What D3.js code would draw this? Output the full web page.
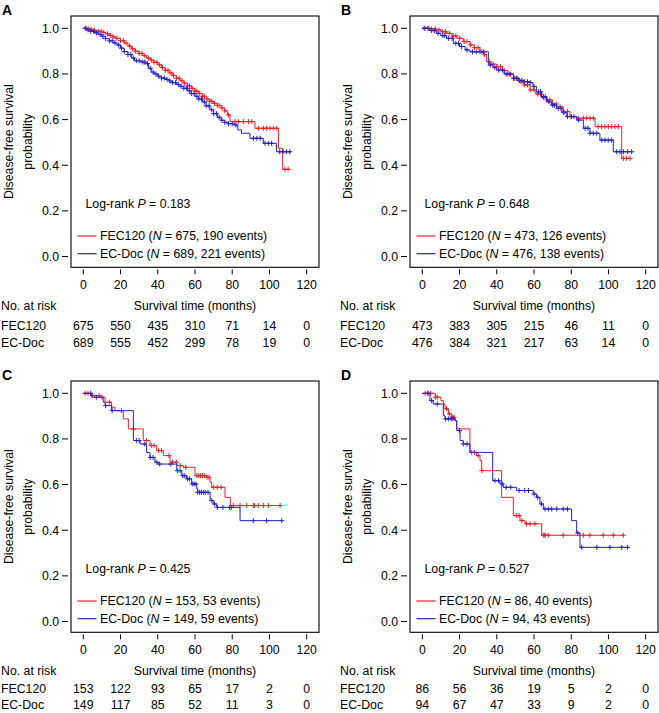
<!DOCTYPE html>
<html>
<head>
<meta charset="utf-8">
<script src="https://cdn.jsdelivr.net/npm/d3@7"></script>
<style>
  body { margin: 0; background: #fff; }
  text { font-family: "Liberation Sans", Arial, Helvetica, sans-serif; font-size: 12.3px; fill: #000; }
</style>
</head>
<body>
<script>
// panel letters and p-values
var panelIds = ["A", "B", "C", "D"];
var pValues = ["0.183", "0.648", "0.425", "0.527"];

// x axis ticks (months)
var xTicks = [0, 20, 40, 60, 80, 100, 120];
var yTicks = [0, 0.2, 0.4, 0.6, 0.8, 1.0];

// legend numbers: N and events
var fecN = [675, 473, 153, 86];
var fecEvents = [190, 126, 53, 40];
var docN = [689, 476, 149, 94];
var docEvents = [221, 138, 59, 43];

// numbers at risk at each x tick
var riskFec = [
  [675, 550, 435, 310, 71, 14, 0],
  [473, 383, 305, 215, 46, 11, 0],
  [153, 122, 93, 65, 17, 2, 0],
  [86, 56, 36, 19, 5, 2, 0]
];
var riskDoc = [
  [689, 555, 452, 299, 78, 19, 0],
  [476, 384, 321, 217, 63, 14, 0],
  [149, 117, 85, 52, 11, 3, 0],
  [94, 67, 47, 33, 9, 2, 0]
];

// Kaplan-Meier steps [time, survival]
var kmA_fec = [[0,1],[2,0.998],[4,0.995],[6,0.99],[8,0.987],[10,0.982],[12,0.976],[14,0.969],[16,0.962],[18,0.956],[20,0.946],[22,0.935],[24,0.922],[26,0.91],[28,0.9],[30,0.89],[32,0.88],[34,0.87],[36,0.861],[38,0.851],[40,0.84],[42,0.828],[44,0.816],[46,0.805],[48,0.793],[50,0.781],[52,0.77],[54,0.759],[56,0.748],[58,0.737],[60,0.725],[62,0.714],[64,0.702],[66,0.69],[68,0.68],[70,0.671],[72,0.662],[74,0.651],[76,0.638],[77.5,0.62],[78.8,0.591],[92.2,0.562],[104.8,0.474],[107.1,0.382],[111,0.382]];
var kmA_doc = [[0,1],[2,0.993],[4,0.987],[6,0.98],[8,0.973],[10,0.965],[12,0.955],[14,0.945],[16,0.936],[18,0.927],[20,0.913],[22,0.898],[24,0.885],[26,0.87],[27.5,0.858],[31,0.852],[33.5,0.845],[35,0.825],[36.5,0.808],[38,0.8],[40,0.79],[42,0.782],[44,0.776],[46,0.769],[48,0.762],[50,0.754],[52,0.746],[54,0.737],[56,0.726],[58,0.714],[60,0.702],[62,0.69],[64,0.677],[66,0.66],[68,0.643],[70,0.626],[72,0.61],[74,0.597],[76,0.588],[78,0.582],[81,0.576],[83,0.555],[85,0.54],[89.5,0.518],[96.7,0.496],[103.8,0.459],[112,0.459]];
var kmB_fec = [[0,1],[4,0.997],[7.7,0.993],[10,0.985],[13,0.978],[16,0.967],[18.5,0.956],[22,0.942],[25.6,0.927],[28,0.915],[31,0.897],[33,0.885],[34.6,0.854],[37,0.843],[40,0.832],[43,0.815],[46,0.798],[49,0.781],[52,0.765],[54.3,0.752],[57.9,0.73],[61,0.712],[64,0.698],[66.8,0.686],[70,0.668],[72.2,0.656],[75.7,0.635],[79.3,0.613],[82.9,0.606],[92.8,0.569],[107.1,0.43],[111.6,0.43]];
var kmB_doc = [[0,1],[4,0.99],[7.7,0.978],[10,0.968],[13,0.956],[16.7,0.934],[20,0.92],[23,0.905],[25.6,0.897],[35.5,0.839],[38,0.828],[40,0.817],[44,0.8],[48.9,0.781],[52,0.772],[54.3,0.766],[57.9,0.762],[59.5,0.745],[61.4,0.722],[64,0.7],[66.8,0.678],[69.5,0.663],[72.2,0.649],[75,0.63],[77.6,0.613],[82.9,0.598],[86.5,0.562],[90.1,0.54],[95.4,0.51],[102.6,0.459],[112.5,0.459]];
var kmC_fec = [[0,1],[4,0.99],[9,0.983],[11.7,0.961],[15.2,0.939],[17,0.924],[21.5,0.888],[24.2,0.844],[32.2,0.793],[35.8,0.771],[39.4,0.749],[43,0.727],[46.6,0.698],[50.2,0.683],[53.7,0.676],[60,0.639],[66.3,0.632],[68.1,0.61],[69,0.588],[76.1,0.544],[79,0.508],[105.7,0.508]];
var kmC_doc = [[0,1],[4.5,0.983],[10.7,0.961],[11.7,0.946],[15.2,0.924],[26.9,0.793],[30.5,0.778],[34,0.741],[35.8,0.719],[38.5,0.698],[40,0.69],[50.2,0.661],[52.9,0.639],[55.5,0.625],[58.2,0.603],[60.9,0.581],[61.5,0.566],[68.1,0.53],[69.8,0.515],[71.7,0.5],[84.2,0.442],[106.6,0.442]];
var kmD_fec = [[0,1],[7,0.983],[10,0.968],[11.3,0.953],[12.2,0.932],[14,0.91],[15.8,0.895],[17.6,0.88],[18.5,0.844],[25.6,0.741],[29.2,0.727],[31,0.705],[31.9,0.661],[42.6,0.544],[48.9,0.464],[52.5,0.442],[55.2,0.428],[64.1,0.378],[108,0.378]];
var kmD_doc = [[0,1],[4.1,0.968],[5.9,0.953],[11.3,0.902],[12.2,0.888],[17.6,0.88],[18.5,0.837],[20.3,0.793],[22,0.778],[25.6,0.741],[37.8,0.617],[41.7,0.603],[43.5,0.588],[50.7,0.574],[59.6,0.559],[61.4,0.544],[63.2,0.515],[65,0.493],[80.2,0.442],[82.9,0.388],[84.7,0.325],[110.7,0.325]];

// censoring times
var censA_fec = [1.5,3,4.5,6,8,9.5,11,13,14.5,16,18,20,21.5,23,25,26.5,28,30,31.5,33,35,36.5,38,39.5,41,42.5,44,45.5,47,48.5,50,51.5,53,54.5,56,57,58.5,60,61,62.5,64,65,66.5,68,69,70.5,72,73,74.5,76,78,81.5,83.3,86,88.7,90.5,94,96.7,98.5,100.3,102.1,103.9,108.3,110];
var censA_doc = [1,2.5,4,5.5,7,9,10.5,12,14,15.5,17,19,20.5,22,24,25.5,27,28.5,30,32,33,34.5,36,37.5,39,40.5,42,43.5,45,46.5,48,49.5,51,52.5,54,55.5,57,58,59.5,61,62,63.5,65,66,67.5,69,70,71.5,73,74.5,76,78,80,82,91.4,93.2,95,97.6,99.4,101.2,105.5,107.3,109.1,110.9];
var censB_fec = [1.5,3.5,5,7,9,11,12.5,14.5,16.5,18,20,22.5,24,26,28,30,32,33.5,36,38,40,42,44,46,47.5,49.5,51,53,55,56.5,58,60,62,63.5,65,67,68.5,70,72,74,76,78,80,83.8,86.5,88.3,90.1,91.9,94.5,96.3,98.1,99.9,101.7,103.5,105.3,108,109.8,111.6];
var censB_doc = [1,3,5,6.5,8.5,11,12,14,16,18,19.5,21,24,27,29,31,33,36.5,39,41,43,45,47,49,50.5,52,53.5,55,56.5,58,60,62.5,63.5,65,66,68,70,71,73,74.5,76,78,80,81.5,84,87.5,89,90.1,91.9,93.7,96.4,98.1,99.9,101.7,104.4,106.2,108,110.3,112.5];
var censC_fec = [1,2.5,5,8.5,10,14,20.5,27,34,36.5,38,40.5,42,46,48,50,52,55,61,62,63,64,65,66.5,67.5,70,72,74,80.6,84.2,87.8,91.3,92,94,96.7,99.4,105.7];
var censC_doc = [4,7,12,15.5,28.5,30,33,36,37.5,39.5,41,47,50.5,52,53.5,54.5,56,57,58.5,59.5,60.5,61.5,62.5,63.5,64.5,65.5,67,69,70.5,72,75,78.6,79.5,91.3,98.5,106.6];
var censD_fec = [1.5,3,4.5,7,8,13,14.5,16,17,26.5,28,30,32,50.5,52,53.5,56,57.9,60.5,65,65.5,66,67.7,75.7,86.5,90,97.2,102.6,108];
var censD_doc = [3,5,8,12.5,14,15.5,16.5,20,22,24,39,41,43,45,47.5,52,55,57,60,62,64,65.9,67.7,69.5,72.2,75.7,78,83.5,85.6,93.7,100.8,107.1,110.3];

var kmFec = [kmA_fec, kmB_fec, kmC_fec, kmD_fec];
var kmDoc = [kmA_doc, kmB_doc, kmC_doc, kmD_doc];
var censFec = [censA_fec, censB_fec, censC_fec, censD_fec];
var censDoc = [censA_doc, censB_doc, censC_doc, censD_doc];

var RED = "#ec2127", BLUE = "#2424c4";

// plot box origins for each panel, and risk table row offsets
var origins = [[71, 16], [410, 16], [71, 381], [410, 381]];
var riskRowY = [[313.5, 331], [313.5, 331], [311.5, 328], [311.5, 328]];
var boxW = 248, boxH = 251.3;

var svg = d3.select("body").append("svg")
  .attr("width", 659)
  .attr("height", 713);

var bis = d3.bisector(function(d) { return d[0]; }).right;

function survAt(km, t) {
  var i = bis(km, t) - 1;
  return km[Math.max(i, 0)][1];
}

panelIds.forEach(function(id, p) {
  var x0 = origins[p][0], y0 = origins[p][1];

  var x = d3.scaleLinear().domain([0, 120]).range([x0 + 12.3, x0 + 235.7]);
  var y = d3.scaleLinear().domain([0, 1]).range([y0 + 240.5, y0 + 12.3]);

  var g = svg.append("g");

  // panel letter
  g.append("text")
    .attr("x", x0 - 69)
    .attr("y", y0 - 1.5)
    .attr("font-weight", "bold")
    .style("font-size", "14px")
    .text(id);

  // box
  g.append("rect")
    .attr("x", x0).attr("y", y0)
    .attr("width", boxW).attr("height", boxH)
    .attr("fill", "none")
    .attr("stroke", "#000")
    .attr("stroke-width", 1.1);

  // y axis ticks (detached, R style)
  var yAx = g.append("g");
  yAx.selectAll("line").data(yTicks).enter().append("line")
    .attr("x1", x0 - 9).attr("x2", x0 - 3)
    .attr("y1", function(d) { return y(d); })
    .attr("y2", function(d) { return y(d); })
    .attr("stroke", "#000");
  yAx.selectAll("text").data(yTicks).enter().append("text")
    .attr("x", x0 - 12)
    .attr("y", function(d) { return y(d); })
    .attr("dy", "0.35em")
    .attr("text-anchor", "end")
    .text(function(d) { return d3.format(".1f")(d); });

  // x axis ticks
  var xAx = g.append("g");
  xAx.selectAll("line").data(xTicks).enter().append("line")
    .attr("x1", function(d) { return x(d); })
    .attr("x2", function(d) { return x(d); })
    .attr("y1", y0 + boxH + 2).attr("y2", y0 + boxH + 7)
    .attr("stroke", "#000");
  xAx.selectAll("text").data(xTicks).enter().append("text")
    .attr("x", function(d) { return x(d); })
    .attr("y", y0 + 273)
    .attr("text-anchor", "middle")
    .text(function(d) { return d; });

  // axis titles
  g.append("text")
    .attr("x", x0 + boxW / 2)
    .attr("y", y0 + 294)
    .attr("text-anchor", "middle")
    .text("Survival time (months)");

  var cy = y0 + boxH / 2;
  g.append("text")
    .attr("transform", "translate(" + (x0 - 58) + "," + cy + ") rotate(-90)")
    .attr("text-anchor", "middle")
    .text("Disease-free survival");
  g.append("text")
    .attr("transform", "translate(" + (x0 - 39) + "," + cy + ") rotate(-90)")
    .attr("text-anchor", "middle")
    .text("probability");

  // numbers at risk
  var r1 = y0 + riskRowY[p][0], r2 = y0 + riskRowY[p][1];
  g.append("text").attr("x", x0 - 70).attr("y", y0 + 294).text("No. at risk");
  g.append("text").attr("x", x0 - 70).attr("y", r1).text("FEC120");
  g.append("text").attr("x", x0 - 70).attr("y", r2).text("EC-Doc");
  g.append("g").selectAll("text").data(riskFec[p]).enter().append("text")
    .attr("x", function(d, i) { return x(xTicks[i]); })
    .attr("y", r1)
    .attr("text-anchor", "middle")
    .text(function(d) { return d; });
  g.append("g").selectAll("text").data(riskDoc[p]).enter().append("text")
    .attr("x", function(d, i) { return x(xTicks[i]); })
    .attr("y", r2)
    .attr("text-anchor", "middle")
    .text(function(d) { return d; });

  // curves
  var line = d3.line()
    .x(function(d) { return x(d[0]); })
    .y(function(d) { return y(d[1]); })
    .curve(d3.curveStepAfter);

  [[kmFec[p], censFec[p], RED], [kmDoc[p], censDoc[p], BLUE]].forEach(function(s) {
    var km = s[0], cens = s[1], col = s[2];
    g.append("path")
      .datum(km)
      .attr("d", line)
      .attr("fill", "none")
      .attr("stroke", col)
      .attr("stroke-width", 1);
    var marks = g.append("g").attr("stroke", col).attr("stroke-width", 1);
    cens.forEach(function(t) {
      var cx = x(t), cyy = y(survAt(km, t));
      marks.append("line").attr("x1", cx - 2.5).attr("x2", cx + 2.5).attr("y1", cyy).attr("y2", cyy);
      marks.append("line").attr("x1", cx).attr("x2", cx).attr("y1", cyy - 2.5).attr("y2", cyy + 2.5);
    });
  });

  // log-rank text
  var lr = g.append("text").attr("x", x0 + 14.5).attr("y", y0 + 191.5);
  lr.append("tspan").text("Log-rank ");
  lr.append("tspan").attr("font-style", "italic").text("P");
  lr.append("tspan").text(" = " + pValues[p]);

  // legend
  var legend = [
    ["FEC120", fecN[p], fecEvents[p], RED],
    ["EC-Doc", docN[p], docEvents[p], BLUE]
  ];
  legend.forEach(function(l, i) {
    var ly = y0 + 220 + i * 17.7;
    g.append("line")
      .attr("x1", x0 + 6.5).attr("x2", x0 + 25.5)
      .attr("y1", ly).attr("y2", ly)
      .attr("stroke", l[3]).attr("stroke-width", 1.2);
    var t = g.append("text").attr("x", x0 + 29).attr("y", ly + 4.2);
    t.append("tspan").text(l[0] + " (");
    t.append("tspan").attr("font-style", "italic").text("N");
    t.append("tspan").text(" = " + l[1] + ", " + l[2] + " events)");
  });
});
</script>
</body>
</html>
